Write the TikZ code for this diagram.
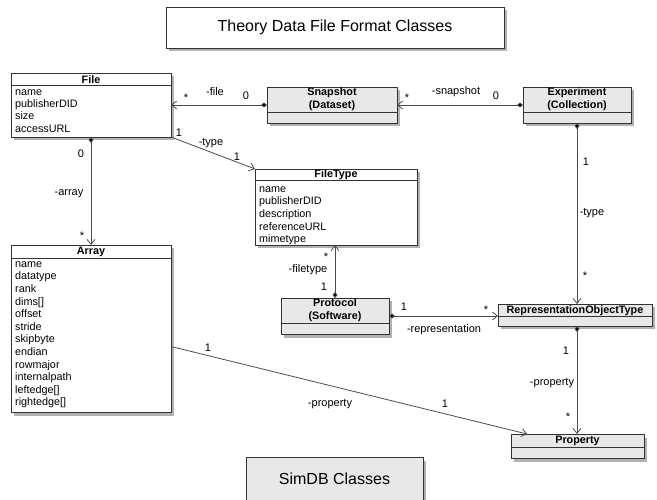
\documentclass[tikz,border=0pt]{standalone}
\usepackage{fontspec}
\setmainfont{Liberation Sans}
\usetikzlibrary{arrows.meta,shadows}
\begin{document}
\begin{tikzpicture}[x=1pt,y=-1pt,
  box/.style={draw=black!80, line width=0.9pt, inner sep=0pt, outer sep=0pt, anchor=north west,
    drop shadow={shadow xshift=2.5pt, shadow yshift=-3.5pt, fill=black!60, opacity=0.5}},
  wbox/.style={box, fill=white},
  gbox/.style={box, fill=black!9},
  big/.style={font=\fontsize{16}{19}\selectfont},
  hdr/.style={font=\bfseries\fontsize{10.8}{12.6}\selectfont, align=center, inner sep=0pt},
  attr/.style={font=\fontsize{10.8}{12.6}\selectfont, align=left, anchor=north west, inner sep=0pt},
  lbl/.style={font=\fontsize{11}{12}\selectfont, inner sep=0pt},
  divider/.style={draw=black!80, line width=0.9pt},
  conn/.style={draw=black!70, line width=0.8pt, -{Straight Barb[length=5pt,width=8pt]}},
  comp/.style={conn, {Diamond[length=6pt,width=5pt,fill=black]}-{Straight Barb[length=5pt,width=8pt]}}
]
\useasboundingbox (0,0) rectangle (657,500);

% title boxes
\node[wbox, big, minimum width=338pt, minimum height=41pt] (title) at (166,7) {Theory Data File Format Classes};
\node[gbox, big, minimum width=177pt, minimum height=43pt] (simdb) at (246,457) {SimDB Classes};

% File
\node[wbox, minimum width=160pt, minimum height=64pt] (file) at (11,73) {};
\draw[divider] (11,85) -- (171,85);
\node[hdr] (fileh) at (91,79.5) {File};
\node[attr, font=\fontsize{10.8}{12.4}\selectfont] (filea) at (15,86.3) {\strut name\\\strut publisherDID\\\strut size\\\strut accessURL};

% Snapshot
\node[gbox, minimum width=130pt, minimum height=36pt] (snapshot) at (267,87) {};
\draw[divider] (267,112) -- (397,112);
\node[hdr] (snapshoth) at (332,99.5) {Snapshot\\(Dataset)};

% Experiment
\node[gbox, minimum width=108pt, minimum height=36pt] (experiment) at (523,87) {};
\draw[divider] (523,112) -- (631,112);
\node[hdr] (experimenth) at (577,99.5) {Experiment\\(Collection)};

% FileType
\node[wbox, minimum width=162pt, minimum height=76pt] (filetype) at (255,169) {};
\draw[divider] (255,180) -- (417,180);
\node[hdr] (filetypeh) at (336,175) {FileType};
\node[attr] (filetypea) at (259,183.3) {\strut name\\\strut publisherDID\\\strut description\\\strut referenceURL\\\strut mimetype};

% Array
\node[wbox, minimum width=160pt, minimum height=167pt] (array) at (11,245) {};
\draw[divider] (11,258) -- (171,258);
\node[hdr] (arrayh) at (91,252) {Array};
\node[attr] (arraya) at (15,258.3) {\strut name\\\strut datatype\\\strut rank\\\strut dims[]\\\strut offset\\\strut stride\\\strut skipbyte\\\strut endian\\\strut rowmajor\\\strut internalpath\\\strut leftedge[]\\\strut rightedge[]};

% Protocol
\node[gbox, minimum width=108pt, minimum height=36pt] (protocol) at (281,298) {};
\draw[divider] (281,323) -- (389,323);
\node[hdr] (protocolh) at (335,310.5) {Protocol\\(Software)};

% RepresentationObjectType
\node[gbox, minimum width=154pt, minimum height=22pt] (rot) at (498,304) {};
\draw[divider] (498,316) -- (652,316);
\node[hdr] (roth) at (575,310.5) {RepresentationObjectType};

% Property
\node[gbox, minimum width=133pt, minimum height=24pt] (property) at (511,434) {};
\draw[divider] (511,447) -- (644,447);
\node[hdr] (propertyh) at (577.5,441) {Property};

% connectors
\draw[comp] (snapshot.west) -- (file.east)
  node[lbl] at (186,98) {*}
  node[lbl] at (215,92) {-file}
  node[lbl] at (246,96) {0};
\draw[comp] (experiment.west) -- (snapshot.east)
  node[lbl] at (407,98) {*}
  node[lbl] at (456,92) {-snapshot}
  node[lbl] at (496,96) {0};
\draw[conn] (file.south east) -- (filetype.north west)
  node[lbl] at (179,133) {1}
  node[lbl] at (211,143) {-type}
  node[lbl] at (237,157) {1};
\draw[comp] (file.south) -- (array.north)
  node[lbl] at (81,154) {0}
  node[lbl] at (69,194) {-array}
  node[lbl] at (82,236) {*};
\draw[comp] (protocol.north) -- (protocol.north |- filetype.south)
  node[lbl] at (326,256.5) {*}
  node[lbl] at (308,270) {-filetype}
  node[lbl] at (324,287) {1};
\draw[comp] (protocol.east) -- (protocol.east -| rot.west)
  node[lbl] at (404,307) {1}
  node[lbl] at (486,310) {*}
  node[lbl] at (444,330) {-representation};
\draw[comp] (experiment.south) -- (experiment.south |- rot.north)
  node[lbl] at (586,162) {1}
  node[lbl] at (592,213) {-type}
  node[lbl] at (585,276) {*};
\draw[comp] (experiment.south |- rot.south) -- (experiment.south |- property.north)
  node[lbl] at (566,351) {1}
  node[lbl] at (552,383) {-property}
  node[lbl] at (568,417) {*};
\draw[conn] ([yshift=-18pt]array.east) -- ([xshift=16pt]property.north west)
  node[lbl] at (208,348) {1}
  node[lbl] at (330,404) {-property}
  node[lbl] at (445,404) {1};
\end{tikzpicture}
\end{document}
